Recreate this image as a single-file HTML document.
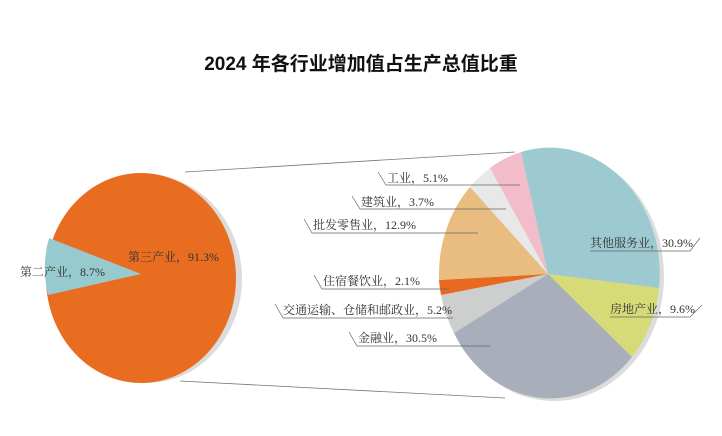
<!DOCTYPE html>
<html><head><meta charset="utf-8"><style>
body{margin:0;background:#fff;}
svg text{font-family:"Liberation Serif","Noto Serif CJK SC",serif;font-size:12px;fill:#333;}
</style></head><body>
<svg width="722" height="431" viewBox="0 0 722 431" xmlns="http://www.w3.org/2000/svg">
<text x="361" y="70" text-anchor="middle" style="font-family:'Liberation Sans','Noto Sans CJK SC',sans-serif;font-size:19px;font-weight:bold;fill:#111">2024 年各行业增加值占生产总值比重</text>
<line x1="185" y1="172" x2="515" y2="152" stroke="#777" stroke-width="0.8"/>
<line x1="180" y1="381" x2="505" y2="398" stroke="#777" stroke-width="0.8"/>
<ellipse cx="147" cy="279" rx="95" ry="104" fill="#dcdcdc"/>
<ellipse cx="141" cy="278" rx="95" ry="105" fill="#e96d20"/>
<path d="M141,274 L49,238 A95,105 0 0 0 48,295 Z" fill="#97cacf"/>
<text x="20" y="276">第二产业，8.7%</text>
<text x="128" y="261">第三产业，91.3%</text>
<ellipse cx="554" cy="276" rx="110" ry="125" fill="#dcdcdc"/>
<g>
<path d="M548,274 L521,152 A110,126 0 0 1 659,288 Z" fill="#9ccad0"/>
<path d="M548,274 L659,288 A110,126 0 0 1 632,357 Z" fill="#d6db78"/>
<path d="M548,274 L632,357 A110,126 0 0 1 454,333 Z" fill="#a8afba"/>
<path d="M548,274 L454,333 A110,126 0 0 1 441,295 Z" fill="#cdcfce"/>
<path d="M548,274 L441,295 A110,126 0 0 1 439,280 Z" fill="#e8691f"/>
<path d="M548,274 L439,280 A110,126 0 0 1 470,187 Z" fill="#e9bd80"/>
<path d="M548,274 L470,187 A110,126 0 0 1 490,168 Z" fill="#e8e8e8"/>
<path d="M548,274 L490,168 A110,126 0 0 1 521,152 Z" fill="#f2bccb"/>
</g>
<g stroke="#666" stroke-width="0.7" fill="none">
<polyline points="378,172 386,185 520,185"/>
<polyline points="352,196 360,209 506,209"/>
<polyline points="304,219 312,233 478,233"/>
<polyline points="590,251 690,251 700,238"/>
<polyline points="314,275 322,289 449,289"/>
<polyline points="275,304 283,318 453,318"/>
<polyline points="610,317 690,317 702,305"/>
<polyline points="349,332 357,346 490,346"/>
</g>
<text x="387" y="182">工业，5.1%</text>
<text x="361" y="206">建筑业，3.7%</text>
<text x="313" y="229">批发零售业，12.9%</text>
<text x="590" y="247">其他服务业，30.9%</text>
<text x="323" y="285">住宿餐饮业，2.1%</text>
<text x="283" y="314">交通运输、仓储和邮政业，5.2%</text>
<text x="610" y="313">房地产业，9.6%</text>
<text x="358" y="342">金融业，30.5%</text>
</svg>
</body></html>
